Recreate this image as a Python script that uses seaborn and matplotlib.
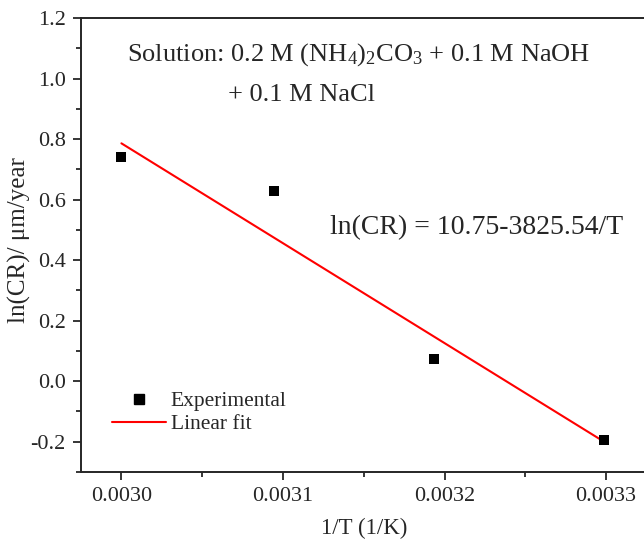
import matplotlib
matplotlib.use("Agg")
import matplotlib.pyplot as plt
import seaborn as sns
import pandas as pd
from matplotlib.ticker import MultipleLocator
from matplotlib.lines import Line2D

# Data
inv_T = [0.0030, 0.0030944, 0.0031934, 0.0032990]
ln_cr = [0.741, 0.629, 0.075, -0.195]
fit_x = [0.0030, 0.0033]
fit_y = [0.786, -0.204]
x_ticks = [0.0030, 0.0031, 0.0032, 0.0033]
x_tick_labels = ["0.0030", "0.0031", "0.0032", "0.0033"]
y_ticks = [-0.2, 0.0, 0.2, 0.4, 0.6, 0.8, 1.0, 1.2]

sns.set_style("ticks")
plt.rcParams['font.family'] = ['Liberation Serif', 'DejaVu Serif']
plt.rcParams['mathtext.fontset'] = 'custom'
plt.rcParams['mathtext.rm'] = 'Liberation Serif'
plt.rcParams['mathtext.it'] = 'Liberation Serif:italic'

fig = plt.figure(figsize=(6.44, 5.41), dpi=100)
ax = fig.add_axes([0.1258, 0.1275, 0.878, 0.8392])

df_pts = pd.DataFrame({"x": inv_T, "y": ln_cr})
df_fit = pd.DataFrame({"x": fit_x, "y": fit_y})

sns.lineplot(data=df_fit, x="x", y="y", ax=ax, color="#ff0000", linewidth=1.5, zorder=2)
sns.scatterplot(data=df_pts, x="x", y="y", ax=ax, marker="s", color="black", s=52,
                edgecolor="black", linewidth=0, zorder=3)

ax.set_xlim(0.002975, 0.003325)
ax.set_ylim(-0.3, 1.2)
ax.set_xticks(x_ticks)
ax.set_xticklabels(x_tick_labels)
ax.set_yticks(y_ticks)
ax.set_yticklabels([f"{v:.1f}" for v in y_ticks])
ax.xaxis.set_minor_locator(MultipleLocator(0.00005))
ax.yaxis.set_minor_locator(MultipleLocator(0.1))
ax.tick_params(which="major", direction="out", length=6, width=1.3, labelsize=16, pad=5)
ax.tick_params(which="minor", direction="out", length=3.5, width=1.3)
for s in ["left", "bottom", "top", "right"]:
    ax.spines[s].set_linewidth(1.4)
ax.spines["right"].set_visible(False)

ax.set_xlabel("1/T (1/K)", fontsize=16.5, labelpad=8)
ax.set_ylabel("ln(CR)/ μm/year", fontsize=18)
ax.yaxis.set_label_coords(-0.088, 0.51)

ax.text(0.0030037, 1.078, r"Solution: 0.2 M (NH$_4$)$_2$CO$_3$ + 0.1 M NaOH",
        fontsize=19, ha="left", va="center")
ax.text(0.0030658, 0.945, "+ 0.1 M NaCl", fontsize=19, ha="left", va="center")
ax.text(0.0031292, 0.506, "ln(CR) = 10.75-3825.54/T", fontsize=20, ha="left", va="center")

handles = [
    Line2D([], [], marker="s", color="black", linestyle="none", markersize=7),
    Line2D([], [], color="#ff0000", linewidth=1.5),
]
leg = ax.legend(handles, ["Experimental", "Linear fit"], loc="lower left",
                bbox_to_anchor=(0.02, 0.04), frameon=False, fontsize=15.5,
                handlelength=2.5, handletextpad=0.25, labelspacing=0.15)

fig.savefig("out.png", dpi=100)
